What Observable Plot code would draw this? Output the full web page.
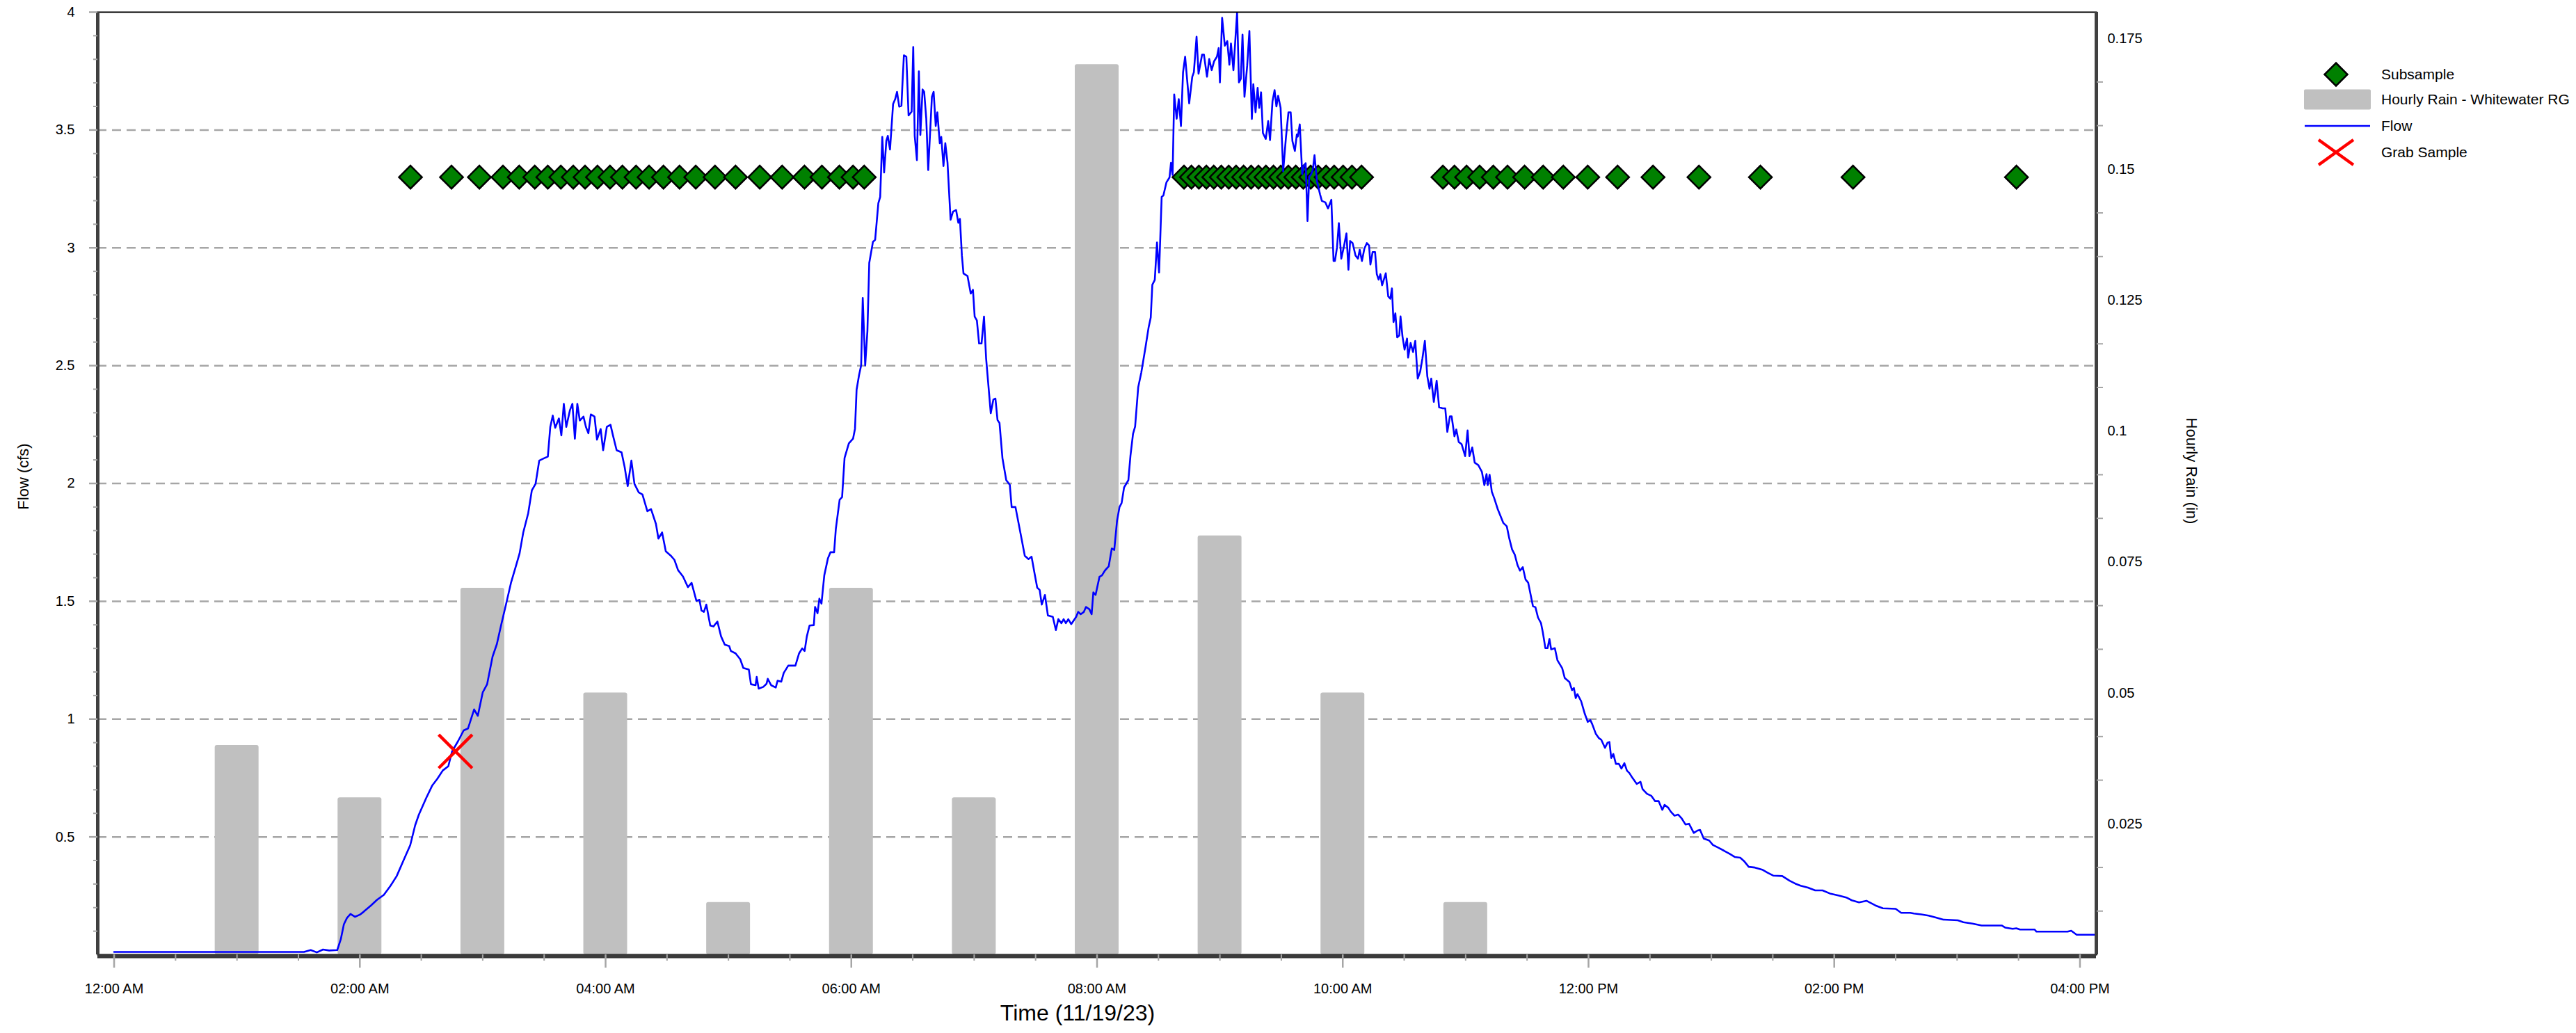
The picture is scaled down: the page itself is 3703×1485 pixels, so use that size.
<!DOCTYPE html>
<html>
<head>
<meta charset="utf-8">
<script src="https://cdn.jsdelivr.net/npm/d3@7"></script>
<script src="https://cdn.jsdelivr.net/npm/@observablehq/plot@0.6"></script>
<style>
html, body { margin: 0; padding: 0; background: #fff; }
#wrap { position: relative; width: 3703px; height: 1485px; font-family: "Liberation Sans", Arial, sans-serif; }
#legend { position: absolute; left: 0; top: 0; pointer-events: none; }
</style>
</head>
<body>
<div id="wrap"></div>
<script>
// ---------------- DATA ----------------
// Hours after midnight on 11/19/23
const xDomainHours = [-8 / 60, 16 + 8 / 60];
const flowDomain = [0, 4];
const rainDomainTop = 0.180;

const flowTickValues = [0.5, 1, 1.5, 2, 2.5, 3, 3.5, 4];
const rainTickValues = [0.025, 0.05, 0.075, 0.1, 0.125, 0.15, 0.175];
const timeTickHours = [0, 2, 4, 6, 8, 10, 12, 14, 16];

// Hourly rain (in), bar centred on the hour
const rainHours = [1, 2, 3, 4, 5, 6, 7, 8, 9, 10, 11];
const rainInches = [0.04, 0.03, 0.07, 0.05, 0.01, 0.07, 0.03, 0.17, 0.08, 0.05, 0.01];

// Subsample times (hours) – plotted at a fixed marker level
const subsampleHours = [
  2.412, 2.746, 2.973, 3.165, 3.297, 3.424, 3.530, 3.636, 3.737, 3.833, 3.934, 4.036, 4.137, 4.248,
  4.354, 4.471, 4.602, 4.734, 4.891, 5.058, 5.255, 5.437, 5.619, 5.761, 5.903, 6.014, 6.105,
  8.708, 8.768, 8.829, 8.890, 8.950, 9.011, 9.072, 9.132, 9.193, 9.254, 9.314, 9.375, 9.436, 9.496,
  9.557, 9.618, 9.678, 9.739, 9.800, 9.864, 9.930, 10.003, 10.075, 10.153,
  10.815, 10.909, 11.008, 11.114, 11.225, 11.341, 11.480, 11.631, 11.795, 11.994, 12.237, 12.525,
  12.899, 13.399, 14.153, 15.483
];
const subsampleLevel = 3.3;

// Grab sample
const grabHours = [2.778];
const grabFlow = [0.863];

// Flow (cfs): [hours, cfs]
const flowReadings = [
  [0,0.012],[0.5,0.012],[1.0,0.012],[1.545,0.012],[1.6,0.02],[1.65,0.01],[1.7,0.022],[1.75,0.018],[1.816,0.02],
  [1.845,0.066],[1.87,0.129],[1.895,0.156],[1.924,0.173],[1.96,0.161],[2.0,0.17],[2.03,0.182],[2.09,0.209],
  [2.14,0.233],[2.195,0.254],[2.25,0.293],[2.30,0.334],[2.36,0.406],[2.41,0.465],[2.45,0.549],[2.48,0.594],
  [2.54,0.665],[2.59,0.719],[2.63,0.746],[2.675,0.782],[2.72,0.80],[2.75,0.862],[2.80,0.907],[2.845,0.952],
  [2.88,0.96],[2.93,1.041],[2.96,1.014],[3.0,1.113],[3.036,1.148],[3.08,1.265],[3.115,1.318],[3.15,1.399],
  [3.19,1.488],[3.23,1.578],[3.27,1.649],[3.30,1.703],[3.33,1.792],[3.37,1.873],[3.40,1.971],[3.43,1.998],
  [3.46,2.097],[3.495,2.106],[3.53,2.114],[3.55,2.240],[3.57,2.288],[3.59,2.236],[3.62,2.276],[3.64,2.204],
  [3.66,2.338],[3.68,2.240],[3.71,2.311],[3.73,2.338],[3.75,2.19],[3.77,2.338],[3.79,2.267],[3.82,2.284],
  [3.84,2.240],[3.86,2.213],[3.88,2.293],[3.91,2.284],[3.93,2.186],[3.96,2.231],[3.98,2.141],[4.01,2.240],
  [4.04,2.249],[4.06,2.204],[4.09,2.141],[4.13,2.132],[4.155,2.07],[4.18,1.989],[4.21,2.097],[4.235,1.998],
  [4.27,1.962],[4.30,1.953],[4.34,1.882],[4.37,1.891],[4.41,1.828],[4.43,1.766],[4.46,1.792],[4.49,1.712],
  [4.53,1.694],[4.56,1.676],[4.59,1.632],[4.63,1.605],[4.67,1.56],[4.70,1.578],
  [4.739,1.502],[4.764,1.506],[4.78,1.461],[4.80,1.455],[4.82,1.486],[4.852,1.397],[4.878,1.393],[4.91,1.414],
  [4.94,1.351],[4.97,1.316],[5.006,1.31],[5.02,1.289],[5.058,1.279],[5.096,1.254],[5.121,1.217],[5.166,1.21],
  [5.183,1.148],[5.221,1.144],[5.23,1.179],[5.246,1.129],[5.284,1.137],[5.31,1.15],[5.32,1.171],[5.347,1.144],
  [5.385,1.134],[5.40,1.163],[5.43,1.159],[5.45,1.196],[5.487,1.227],[5.545,1.227],[5.575,1.279],[5.60,1.30],
  [5.62,1.289],[5.638,1.351],[5.66,1.397],[5.695,1.399],[5.705,1.476],[5.725,1.449],[5.74,1.511],[5.757,1.49],
  [5.78,1.61],[5.81,1.683],[5.83,1.708],[5.86,1.708],[5.874,1.807],[5.905,1.931],[5.925,1.942],[5.945,2.108],
  [5.98,2.17],[6.014,2.19],[6.03,2.232],[6.043,2.398],[6.063,2.46],[6.08,2.501],[6.093,2.787],[6.113,2.501],
  [6.131,2.646],[6.146,2.936],[6.176,3.025],[6.194,3.034],[6.22,3.189],[6.235,3.216],[6.252,3.471],[6.267,3.32],
  [6.285,3.454],[6.297,3.475],[6.315,3.417],[6.34,3.61],[6.357,3.631],[6.372,3.662],[6.39,3.599],[6.408,3.603],
  [6.415,3.683],[6.428,3.817],[6.448,3.811],[6.466,3.562],[6.491,3.578],[6.504,3.852],[6.516,3.475],[6.534,3.372],
  [6.55,3.749],[6.562,3.479],[6.58,3.672],[6.593,3.662],[6.61,3.548],[6.626,3.33],[6.656,3.641],[6.67,3.662],
  [6.687,3.517],[6.70,3.575],[6.72,3.444],[6.732,3.471],[6.75,3.347],[6.765,3.444],[6.783,3.361],[6.808,3.119],
  [6.828,3.154],[6.853,3.16],[6.871,3.106],[6.884,3.123],[6.9,2.967],[6.913,2.891],[6.946,2.88],[6.972,2.806],
  [6.99,2.822],[7.004,2.708],[7.022,2.692],[7.04,2.594],[7.06,2.594],[7.08,2.708],[7.097,2.532],[7.135,2.298],
  [7.156,2.356],[7.173,2.36],[7.19,2.269],[7.206,2.257],[7.23,2.108],[7.261,2.014],[7.29,1.994],[7.305,1.90],
  [7.336,1.90],[7.374,1.797],[7.412,1.693],[7.442,1.679],[7.467,1.689],[7.493,1.614],[7.513,1.558],[7.533,1.548],
  [7.55,1.486],[7.576,1.527],[7.6,1.44],[7.64,1.434],[7.665,1.378],[7.685,1.424],[7.71,1.407],[7.728,1.424],
  [7.746,1.407],[7.766,1.424],[7.79,1.403],[7.83,1.434],[7.847,1.455],[7.867,1.445],[7.893,1.455],[7.91,1.476],
  [7.938,1.466],[7.956,1.445],[7.97,1.538],[7.988,1.527],[8.02,1.604],[8.04,1.61],[8.065,1.631],[8.095,1.648],
  [8.12,1.724],[8.14,1.718],[8.163,1.843],[8.183,1.90],[8.2,1.917],[8.22,1.983],[8.255,2.014],[8.272,2.118],
  [8.293,2.211],[8.31,2.242],[8.335,2.408],[8.36,2.47],[8.395,2.58],[8.42,2.663],[8.437,2.704],[8.45,2.843],
  [8.47,2.864],[8.488,3.023],[8.505,2.895],[8.526,3.216],[8.54,3.222],[8.565,3.278],[8.59,3.299],[8.602,3.361],
  [8.615,3.309],[8.628,3.651],[8.648,3.548],[8.665,3.631],[8.683,3.517],[8.70,3.745],
  [8.717,3.811],[8.75,3.613],[8.775,3.726],[8.788,3.745],[8.81,3.896],[8.826,3.739],[8.855,3.82],[8.87,3.82],
  [8.895,3.726],[8.913,3.801],[8.933,3.754],[8.953,3.792],[8.976,3.811],[8.99,3.848],[9.0,3.702],[9.018,3.976],
  [9.04,3.858],[9.06,3.877],[9.077,3.777],[9.09,3.867],[9.11,3.754],[9.14,4.0],[9.155,3.702],[9.17,3.717],
  [9.184,3.905],[9.2,3.641],[9.222,3.773],[9.24,3.92],[9.26,3.547],[9.272,3.694],[9.29,3.575],[9.307,3.679],
  [9.32,3.594],[9.335,3.66],[9.35,3.487],[9.373,3.462],[9.393,3.538],[9.408,3.457],[9.428,3.622],[9.445,3.669],
  [9.46,3.6],[9.474,3.645],[9.494,3.594],[9.515,3.325],[9.538,3.472],[9.558,3.575],[9.576,3.575],[9.59,3.453],
  [9.61,3.411],[9.626,3.481],[9.634,3.472],[9.65,3.524],[9.67,3.312],[9.684,3.349],[9.698,3.359],[9.713,3.114],
  [9.727,3.302],[9.742,3.312],[9.756,3.33],[9.77,3.393],[9.79,3.283],[9.815,3.227],[9.83,3.199],[9.858,3.193],
  [9.88,3.167],[9.907,3.204],[9.925,2.944],[9.936,2.944],[9.953,3.001],[9.968,3.105],[9.988,2.954],[10.011,3.01],
  [10.03,3.061],[10.046,2.907],[10.06,3.029],[10.08,3.02],[10.104,2.967],[10.124,2.954],[10.138,2.992],[10.156,2.944],
  [10.176,2.997],[10.196,3.02],[10.214,3.01],[10.225,2.929],[10.243,2.982],[10.263,2.982],[10.277,2.888],[10.292,2.865],
  [10.306,2.888],[10.32,2.841],[10.35,2.892],[10.37,2.794],[10.387,2.784],[10.4,2.828],[10.413,2.685],[10.428,2.722],
  [10.443,2.62],[10.46,2.628],[10.47,2.709],[10.486,2.624],[10.503,2.568],[10.523,2.615],[10.532,2.534],[10.552,2.596],
  [10.572,2.558],[10.59,2.605],[10.61,2.445],[10.63,2.474],[10.648,2.53],[10.668,2.605],[10.688,2.455],[10.706,2.402],
  [10.72,2.445],[10.741,2.346],[10.764,2.436],[10.784,2.323],[10.813,2.319],[10.834,2.319],[10.851,2.219],[10.872,2.285],
  [10.886,2.285],[10.909,2.2],[10.924,2.229],[10.944,2.176],[10.967,2.167],[10.996,2.116],[11.016,2.225],[11.031,2.116],
  [11.054,2.153],[11.074,2.088],[11.103,2.078],[11.132,2.05],[11.152,1.993],[11.17,2.04],[11.18,1.993],[11.195,2.037],
  [11.213,1.965],[11.233,1.937],[11.262,1.89],[11.306,1.833],[11.335,1.818],[11.355,1.767],[11.378,1.72],[11.4,1.698],
  [11.422,1.654],[11.442,1.63],[11.465,1.645],[11.488,1.592],[11.509,1.579],
  [11.548,1.479],[11.568,1.475],[11.589,1.431],[11.613,1.408],[11.628,1.369],[11.649,1.301],[11.667,1.301],[11.682,1.34],
  [11.696,1.296],[11.726,1.301],[11.747,1.25],[11.786,1.216],[11.807,1.174],[11.845,1.157],[11.866,1.123],[11.881,1.132],
  [11.896,1.089],[11.91,1.106],[11.94,1.076],[11.97,1.022],[11.994,0.988],[12.015,0.996],[12.03,0.979],[12.06,0.937],
  [12.083,0.92],[12.104,0.912],[12.134,0.878],[12.155,0.9],[12.17,0.903],[12.185,0.835],[12.202,0.852],[12.223,0.81],
  [12.247,0.81],[12.268,0.79],[12.292,0.813],[12.313,0.781],[12.333,0.771],[12.357,0.751],[12.393,0.725],[12.423,0.734],
  [12.44,0.703],[12.476,0.683],[12.512,0.674],[12.542,0.652],[12.571,0.652],[12.601,0.615],[12.619,0.636],[12.649,0.624],
  [12.67,0.607],[12.7,0.59],[12.729,0.595],[12.759,0.578],[12.789,0.553],[12.818,0.556],[12.857,0.517],[12.887,0.527],
  [12.908,0.53],[12.938,0.493],[12.982,0.485],[13.012,0.466],[13.057,0.454],[13.101,0.442],[13.146,0.429],[13.19,0.415],
  [13.235,0.412],[13.265,0.398],[13.304,0.373],[13.354,0.37],[13.414,0.361],[13.458,0.348],[13.503,0.336],[13.577,0.334],
  [13.637,0.314],[13.682,0.302],[13.726,0.293],[13.786,0.285],[13.845,0.273],[13.905,0.273],[13.964,0.26],[14.039,0.251],
  [14.098,0.243],[14.143,0.231],[14.202,0.222],[14.262,0.229],[14.336,0.209],[14.396,0.197],[14.5,0.195],[14.545,0.178],
  [14.619,0.178],[14.649,0.175],[14.708,0.171],[14.768,0.166],[14.827,0.158],[14.887,0.149],[15.006,0.146],[15.051,0.138],
  [15.125,0.132],[15.2,0.124],[15.363,0.124],[15.393,0.115],[15.452,0.11],[15.482,0.112],[15.512,0.107],[15.631,0.107],
  [15.646,0.098],[15.899,0.098],[15.929,0.102],[15.973,0.085],[16.122,0.085],[16.133,0.080]
];

// ---------------- HELPERS ----------------
const baseUTC = Date.UTC(2023, 10, 19);
const at = (h) => new Date(baseUTC + h * 3600e3);
const rainToFlow = flowDomain[1] / rainDomainTop;
const barHalfHours = 10.7 / 60;
const fmtTime = d3.utcFormat("%I:%M %p");
const fmtRain = (v) => String(Number(v.toFixed(4)));

const minorFlowTicks = d3.range(1, 40).map((i) => i / 10).filter((v) => Math.abs(v * 2 - Math.round(v * 2)) > 1e-6);
const minorRainTicks = d3.range(1, 22).filter((k) => k % 3 !== 0).map((k) => (k * 0.025) / 3);
const minorTimeHours = d3.range(0, 33).filter((k) => k % 4 !== 0).map((k) => k / 2);

const rainRows = rainHours.map((h, i) => ({ h, v: rainInches[i] }));
const subRows = subsampleHours.map((h) => ({ h, v: subsampleLevel }));
const grabRows = grabHours.map((h, i) => ({ h, v: grabFlow[i] }));

const W = 3703, H = 1485;
const gridColor = "#a6a6a6";

const chart = Plot.plot({
  width: W,
  height: H,
  marginLeft: 140,
  marginRight: 690,
  marginTop: 17,
  marginBottom: 113,
  style: { fontFamily: '"Liberation Sans", Arial, sans-serif', fontSize: "20px", background: "#fff", color: "#000" },
  x: { type: "utc", domain: xDomainHours.map(at) },
  y: { domain: flowDomain },
  marks: [
    // dashed grid
    Plot.ruleY(flowTickValues.filter((v) => v < flowDomain[1]), { stroke: gridColor, strokeWidth: 2.5, strokeDasharray: "13,8" }),
    // rain bars (right axis scale)
    Plot.rectY(rainRows, {
      x1: (d) => at(d.h - barHalfHours), x2: (d) => at(d.h + barHalfHours),
      y1: () => 0, y2: (d) => d.v * rainToFlow,
      fill: "#c0c0c0", rx: 3
    }),
    // subsamples
    Plot.dot(subRows, { x: (d) => at(d.h), y: "v", symbol: "diamond2", r: 14.9, fill: "#008000", stroke: "#000", strokeWidth: 2.5 }),
    // flow
    Plot.line(flowReadings, { x: (d) => at(d[0]), y: (d) => d[1], stroke: "#0000ff", strokeWidth: 2.6, clip: true }),
    // grab sample
    Plot.dot(grabRows, { x: (d) => at(d.h), y: "v", symbol: "times", r: 22, stroke: "#ff0000", strokeWidth: 4.5 }),
    // frame + axis lines
    Plot.frame({ stroke: "#000", strokeWidth: 2 }),
    Plot.ruleX([at(xDomainHours[0])], { stroke: "#404040", strokeWidth: 5 }),
    Plot.ruleX([at(xDomainHours[1])], { stroke: "#404040", strokeWidth: 5 }),
    Plot.ruleY([0], { stroke: "#3a3a3a", strokeWidth: 6, dy: 2 }),
    // left axis
    Plot.axisY(flowTickValues, { anchor: "left", tickSize: 12, tickPadding: 21, stroke: gridColor, strokeWidth: 2.5, tickFormat: (d) => String(d), fontSize: 20, label: null }),
    Plot.axisY(minorFlowTicks, { anchor: "left", tickSize: 6, stroke: gridColor, strokeWidth: 2, tickFormat: () => "", label: null }),
    // right axis (rain)
    Plot.axisY(rainTickValues.map((v) => v * rainToFlow), { anchor: "right", tickSize: 0, tickPadding: 16, tickFormat: (d) => fmtRain(d / rainToFlow), fontSize: 20, label: null }),
    Plot.axisY(minorRainTicks.map((v) => v * rainToFlow), { anchor: "right", tickSize: 9, stroke: gridColor, strokeWidth: 2, tickFormat: () => "", label: null }),
    // x axis
    Plot.axisX(timeTickHours.map(at), { tickSize: 19, tickPadding: 22, stroke: gridColor, strokeWidth: 2.5, tickFormat: fmtTime, fontSize: 20, label: null }),
    Plot.axisX(minorTimeHours.map(at), { tickSize: 9, stroke: gridColor, strokeWidth: 2, tickFormat: () => "", label: null }),
    // axis titles
    Plot.text(["Flow (cfs)"], { frameAnchor: "left", textAnchor: "middle", dx: -107, dy: -10, rotate: -90, fontSize: 22, fill: "#000" }),
    Plot.text(["Hourly Rain (in)"], { frameAnchor: "right", textAnchor: "middle", dx: 137, dy: -18, rotate: 90, fontSize: 22, fill: "#000" }),
    Plot.text(["Time (11/19/23)"], { frameAnchor: "bottom", textAnchor: "middle", dx: -28, dy: 94, fontSize: 32, fill: "#000" })
  ]
});

const wrap = document.getElementById("wrap");
wrap.appendChild(chart);

// ---------------- LEGEND ----------------
const legendItems = ["Subsample", "Hourly Rain - Whitewater RG", "Flow", "Grab Sample"];
const lg = d3.select(wrap).append("svg").attr("id", "legend").attr("width", W).attr("height", 300)
  .style("font-family", '"Liberation Sans", Arial, sans-serif');
const cx = 3358, tx = 3423, rowY = [107, 143, 181, 219];
lg.append("path").attr("d", `M${cx},${rowY[0] - 16.5}L${cx + 16.5},${rowY[0]}L${cx},${rowY[0] + 16.5}L${cx - 16.5},${rowY[0]}Z`)
  .attr("fill", "#008000").attr("stroke", "#000").attr("stroke-width", 2.5);
lg.append("rect").attr("x", 3312).attr("y", rowY[1] - 14.5).attr("width", 96).attr("height", 29).attr("rx", 2).attr("fill", "#c0c0c0");
lg.append("line").attr("x1", 3313).attr("x2", 3407).attr("y1", rowY[2]).attr("y2", rowY[2]).attr("stroke", "#0000ff").attr("stroke-width", 2.5);
lg.append("path").attr("d", `M${cx - 25},${rowY[3] - 18}L${cx + 25},${rowY[3] + 18}M${cx - 25},${rowY[3] + 18}L${cx + 25},${rowY[3] - 18}`)
  .attr("stroke", "#ff0000").attr("stroke-width", 4.5).attr("fill", "none");
legendItems.forEach((t, i) => {
  lg.append("text").attr("x", tx).attr("y", rowY[i]).attr("dy", "0.35em").attr("font-size", 21).attr("fill", "#000").text(t);
});
</script>
</body>
</html>
